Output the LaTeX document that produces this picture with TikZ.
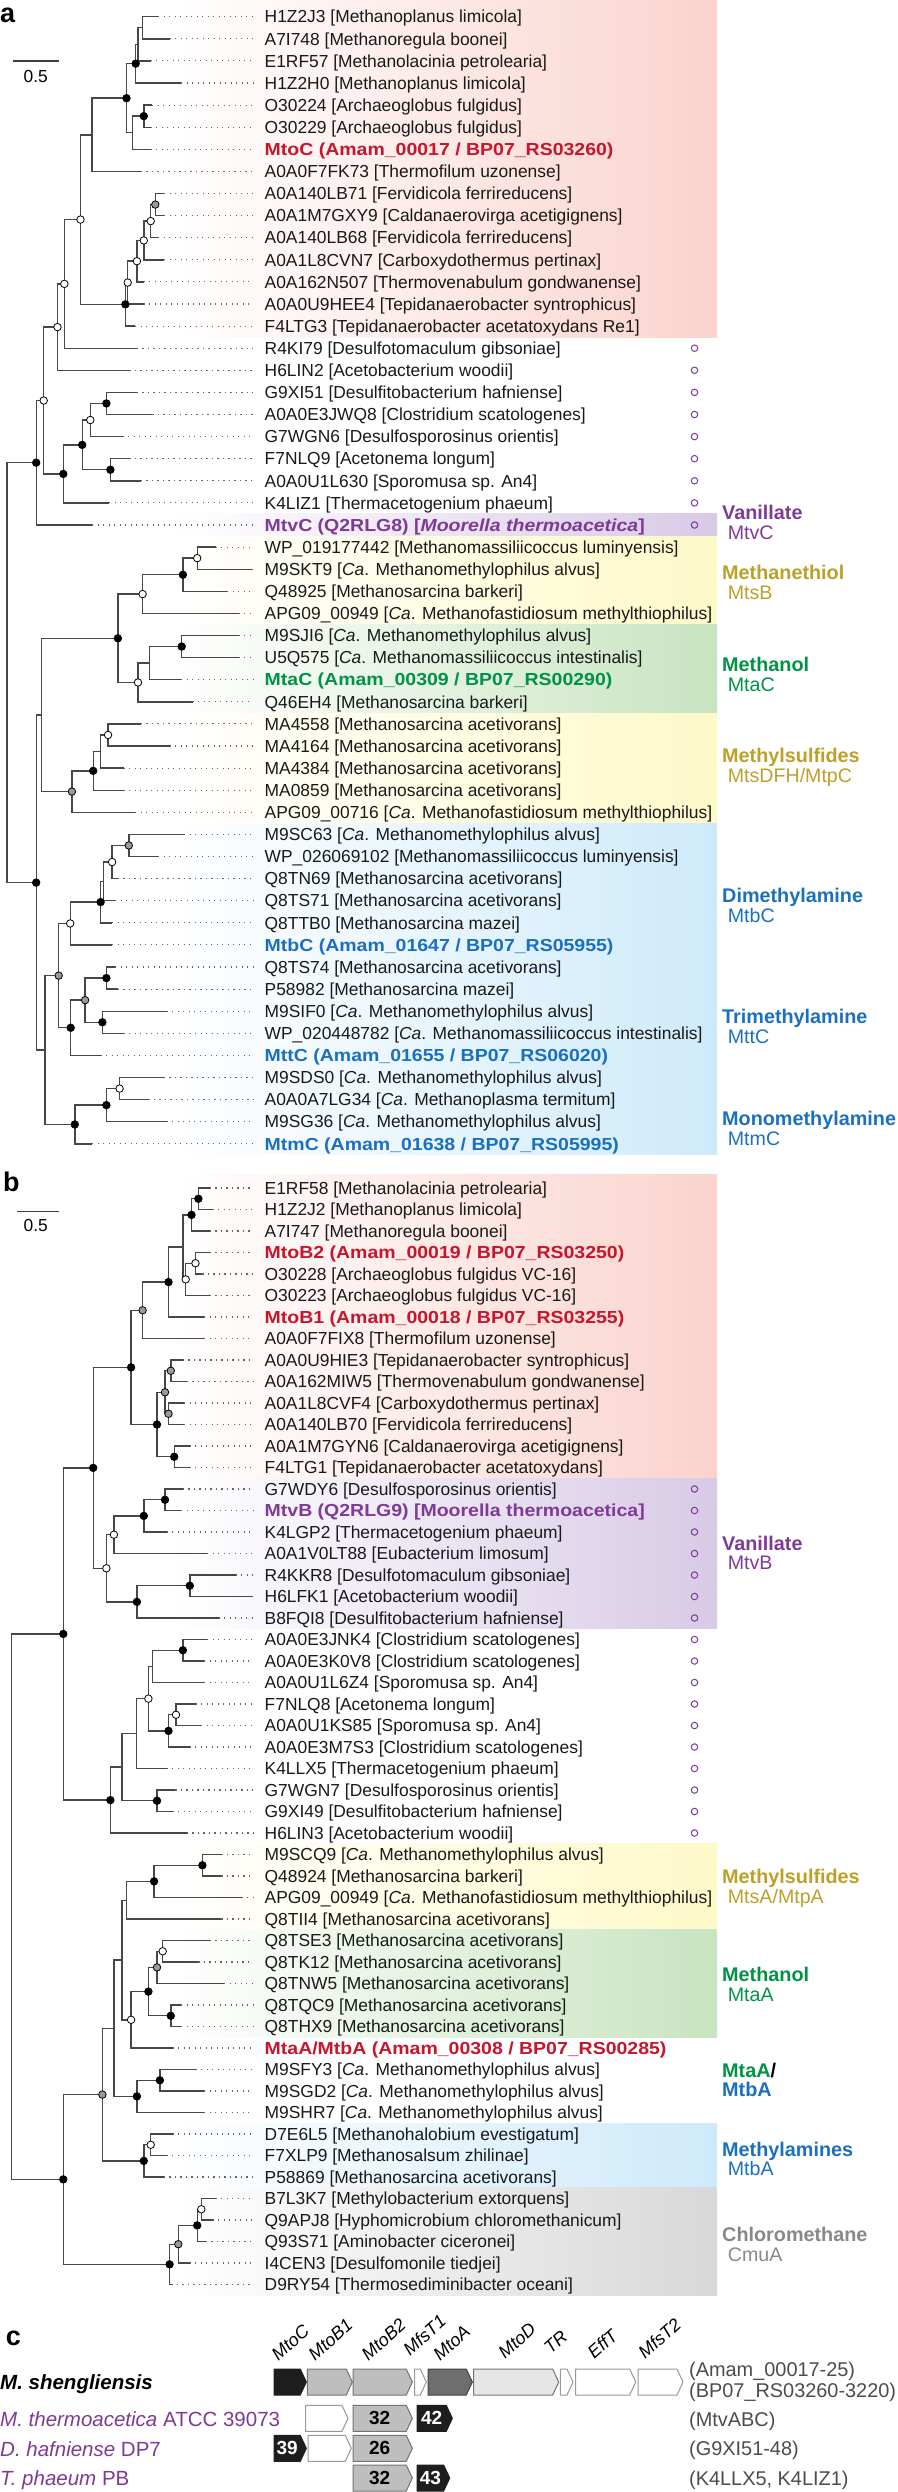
\documentclass[tikz,border=0pt]{standalone}
\usepackage{fontspec}
\setmainfont{Liberation Sans}
\newfontfamily\widesf[FakeStretch=1.12]{Liberation Sans}
\usetikzlibrary{shapes.symbols}

\definecolor{redtx}{RGB}{197,22,45}
\definecolor{purtx}{RGB}{126,58,150}
\definecolor{olvtx}{RGB}{188,160,42}
\definecolor{grntx}{RGB}{0,146,69}
\definecolor{blutx}{RGB}{27,112,190}
\definecolor{grytx}{RGB}{136,136,136}
\definecolor{pinkbg}{RGB}{250,211,205}
\definecolor{purbg}{RGB}{216,202,230}
\definecolor{yelbg}{RGB}{254,249,200}
\definecolor{grnbg}{RGB}{200,228,192}
\definecolor{blubg}{RGB}{206,234,250}
\definecolor{grybg}{RGB}{216,216,218}
\definecolor{gblk}{RGB}{30,30,30}
\definecolor{glgt}{RGB}{190,190,192}
\definecolor{gdrk}{RGB}{110,110,110}
\definecolor{gpal}{RGB}{230,230,232}

\begin{document}
\begin{tikzpicture}[x=1pt, y=-1pt,
  br/.style={line width=1.4pt, draw=black!72},
  dots/.style={line width=1.1pt, draw=black!60, dash pattern=on 1.1pt off 4.4pt, shorten >=11.5pt},
  lf/.style={anchor=west, inner sep=0pt, text height=12.4pt, text depth=0pt, text=black!90, font=\fontsize{17.4}{20}\selectfont},
  lfb/.style={lf, font=\widesf\bfseries\fontsize{17.4}{20}\selectfont},
  bsf/.style={circle, draw=black, line width=0.8pt, inner sep=0pt, minimum size=7.5pt, fill=black},
  bsg/.style={bsf, fill=black!40},
  bso/.style={bsf, fill=white},
  vmk/.style={circle, draw=purtx, line width=1pt, inner sep=0pt, minimum size=6.5pt},
  hd/.style={anchor=west, inner sep=0pt, text height=14.2pt, text depth=0pt, font=\bfseries\fontsize{19.8}{22}\selectfont},
  sub/.style={anchor=west, inner sep=0pt, text height=14.2pt, text depth=0pt, font=\fontsize{19.6}{22}\selectfont},
  panel/.style={anchor=base west, inner sep=0pt, font=\bfseries\fontsize{27}{28}\selectfont},
  sbar/.style={line width=1.3pt, draw=black!75},
  sp/.style={anchor=west, inner sep=0pt, text height=14.7pt, text depth=0pt, font=\fontsize{20.5}{22}\selectfont},
  rt/.style={anchor=west, inner sep=0pt, text height=14.2pt, text depth=0pt, text=black!70, font=\fontsize{19.9}{22}\selectfont},
  gene/.style={signal, signal to=east, signal from=nowhere, signal pointer angle=130, draw, line width=1pt, minimum height=26pt, inner sep=0pt, font=\bfseries\fontsize{19}{20}\selectfont},
  gl/.style={anchor=base west, inner sep=0pt, rotate=42, font=\itshape\fontsize{18}{20}\selectfont}]

\useasboundingbox (0,0) rectangle (897,2492);

% ---------------- panel a ----------------
\node[panel] (pa) at (0,22.7) {a};
\coordinate (sa1) at (12.6,61); \coordinate (sa2) at (58.7,61);
\draw[sbar] (sa1) -- (sa2);
\node[inner sep=0pt, font=\fontsize{17.4}{20}\selectfont] (sal) at (35.7,76.7) {0.5};

\begin{scope}[y=-22.1pt, shift={(0pt,5.4pt)}]
\shade[left color=white, right color=pinkbg] (175,0.25) rectangle (717,15.5);
\shade[left color=white, right color=purbg] (175,23.5) rectangle (717,24.5);
\shade[left color=white, right color=yelbg] (175,24.5) rectangle (717,37.5);
\shade[left color=white, right color=grnbg] (175,28.5) rectangle (717,32.5);
\shade[left color=white, right color=blubg] (175,37.5) rectangle (717,52.5);

\coordinate (ta1) at (158,1); \node[lf] (la1) at (264.5,1) {H1Z2J3 [Methanoplanus limicola]};
\coordinate (ta2) at (169.6,2); \node[lf] (la2) at (264.5,2) {A7I748 [Methanoregula boonei]};
\coordinate (ta3) at (150.6,3); \node[lf] (la3) at (264.5,3) {E1RF57 [Methanolacinia petrolearia]};
\coordinate (ta4) at (181,4); \node[lf] (la4) at (264.5,4) {H1Z2H0 [Methanoplanus limicola]};
\coordinate (ta5) at (152,5); \node[lf] (la5) at (264.5,5) {O30224 [Archaeoglobus fulgidus]};
\coordinate (ta6) at (150.6,6); \node[lf] (la6) at (264.5,6) {O30229 [Archaeoglobus fulgidus]};
\coordinate (ta7) at (150.6,7); \node[lfb, text=redtx] (la7) at (264.5,7) {MtoC (Amam\_00017 / BP07\_RS03260)};
\coordinate (ta8) at (140.9,8); \node[lf] (la8) at (264.5,8) {A0A0F7FK73 [Thermofilum uzonense]};
\coordinate (ta9) at (164,9); \node[lf] (la9) at (264.5,9) {A0A140LB71 [Fervidicola ferrireducens]};
\coordinate (ta10) at (164,10); \node[lf] (la10) at (264.5,10) {A0A1M7GXY9 [Caldanaerovirga acetigignens]};
\coordinate (ta11) at (158,11); \node[lf] (la11) at (264.5,11) {A0A140LB68 [Fervidicola ferrireducens]};
\coordinate (ta12) at (164,12); \node[lf] (la12) at (264.5,12) {A0A1L8CVN7 [Carboxydothermus pertinax]};
\coordinate (ta13) at (143.8,13); \node[lf] (la13) at (264.5,13) {A0A162N507 [Thermovenabulum gondwanense]};
\coordinate (ta14) at (143.8,14); \node[lf] (la14) at (264.5,14) {A0A0U9HEE4 [Tepidanaerobacter syntrophicus]};
\coordinate (ta15) at (135,15); \node[lf] (la15) at (264.5,15) {F4LTG3 [Tepidanaerobacter acetatoxydans Re1]};
\coordinate (ta16) at (136.9,16); \node[lf] (la16) at (264.5,16) {R4KI79 [Desulfotomaculum gibsoniae]};
\coordinate (ta17) at (129.4,17); \node[lf] (la17) at (264.5,17) {H6LIN2 [Acetobacterium woodii]};
\coordinate (ta18) at (136.9,18); \node[lf] (la18) at (264.5,18) {G9XI51 [Desulfitobacterium hafniense]};
\coordinate (ta19) at (152.4,19); \node[lf] (la19) at (264.5,19) {A0A0E3JWQ8 [Clostridium scatologenes]};
\coordinate (ta20) at (122.5,20); \node[lf] (la20) at (264.5,20) {G7WGN6 [Desulfosporosinus orientis]};
\coordinate (ta21) at (129.4,21); \node[lf] (la21) at (264.5,21) {F7NLQ9 [Acetonema longum]};
\coordinate (ta22) at (140.9,22); \node[lf] (la22) at (264.5,22) {A0A0U1L630 [Sporomusa sp. An4]};
\coordinate (ta23) at (109.3,23); \node[lf] (la23) at (264.5,23) {K4LIZ1 [Thermacetogenium phaeum]};
\coordinate (ta24) at (92,24); \node[lfb, text=purtx] (la24) at (264.5,24) {MtvC (Q2RLG8) [\textit{Moorella thermoacetica}]};
\coordinate (ta25) at (215.6,25); \node[lf] (la25) at (264.5,25) {WP\_019177442 [Methanomassiliicoccus luminyensis]};
\coordinate (ta26) at (252,26); \node[lf] (la26) at (264.5,26) {M9SKT9 [\textit{Ca}. Methanomethylophilus alvus]};
\coordinate (ta27) at (227.1,27); \node[lf] (la27) at (264.5,27) {Q48925 [Methanosarcina barkeri]};
\coordinate (ta28) at (238.6,28); \node[lf] (la28) at (264.5,28) {APG09\_00949 [\textit{Ca}. Methanofastidiosum methylthiophilus]};
\coordinate (ta29) at (238.6,29); \node[lf] (la29) at (264.5,29) {M9SJI6 [\textit{Ca}. Methanomethylophilus alvus]};
\coordinate (ta30) at (238.6,30); \node[lf] (la30) at (264.5,30) {U5Q575 [\textit{Ca}. Methanomassiliicoccus intestinalis]};
\coordinate (ta31) at (181.1,31); \node[lfb, text=grntx] (la31) at (264.5,31) {MtaC (Amam\_00309 / BP07\_RS00290)};
\coordinate (ta32) at (192.6,32); \node[lf] (la32) at (264.5,32) {Q46EH4 [Methanosarcina barkeri]};
\coordinate (ta33) at (140.9,33); \node[lf] (la33) at (264.5,33) {MA4558 [Methanosarcina acetivorans]};
\coordinate (ta34) at (169.6,34); \node[lf] (la34) at (264.5,34) {MA4164 [Methanosarcina acetivorans]};
\coordinate (ta35) at (123.6,35); \node[lf] (la35) at (264.5,35) {MA4384 [Methanosarcina acetivorans]};
\coordinate (ta36) at (123.6,36); \node[lf] (la36) at (264.5,36) {MA0859 [Methanosarcina acetivorans]};
\coordinate (ta37) at (135.1,37); \node[lf] (la37) at (264.5,37) {APG09\_00716 [\textit{Ca}. Methanofastidiosum methylthiophilus]};
\coordinate (ta38) at (184,38); \node[lf] (la38) at (264.5,38) {M9SC63 [\textit{Ca}. Methanomethylophilus alvus]};
\coordinate (ta39) at (158.1,39); \node[lf] (la39) at (264.5,39) {WP\_026069102 [Methanomassiliicoccus luminyensis]};
\coordinate (ta40) at (117.9,40); \node[lf] (la40) at (264.5,40) {Q8TN69 [Methanosarcina acetivorans]};
\coordinate (ta41) at (115,41); \node[lf] (la41) at (264.5,41) {Q8TS71 [Methanosarcina acetivorans]};
\coordinate (ta42) at (112.1,42); \node[lf] (la42) at (264.5,42) {Q8TTB0 [Methanosarcina mazei]};
\coordinate (ta43) at (112.1,43); \node[lfb, text=blutx] (la43) at (264.5,43) {MtbC (Amam\_01647 / BP07\_RS05955)};
\coordinate (ta44) at (115,44); \node[lf] (la44) at (264.5,44) {Q8TS74 [Methanosarcina acetivorans]};
\coordinate (ta45) at (117.9,45); \node[lf] (la45) at (264.5,45) {P58982 [Methanosarcina mazei]};
\coordinate (ta46) at (166.8,46); \node[lf] (la46) at (264.5,46) {M9SIF0 [\textit{Ca}. Methanomethylophilus alvus]};
\coordinate (ta47) at (123.6,47); \node[lf] (la47) at (264.5,47) {WP\_020448782 [\textit{Ca}. Methanomassiliicoccus intestinalis]};
\coordinate (ta48) at (100.6,48); \node[lfb, text=blutx] (la48) at (264.5,48) {MttC (Amam\_01655 / BP07\_RS06020)};
\coordinate (ta49) at (163.9,49); \node[lf] (la49) at (264.5,49) {M9SDS0 [\textit{Ca}. Methanomethylophilus alvus]};
\coordinate (ta50) at (148.4,50); \node[lf] (la50) at (264.5,50) {A0A0A7LG34 [\textit{Ca}. Methanoplasma termitum]};
\coordinate (ta51) at (166.8,51); \node[lf] (la51) at (264.5,51) {M9SG36 [\textit{Ca}. Methanomethylophilus alvus]};
\coordinate (ta52) at (92,52); \node[lfb, text=blutx] (la52) at (264.5,52) {MtmC (Amam\_01638 / BP07\_RS05995)};
\foreach \i in {1,...,52} {\draw[dots] (ta\i) -- (la\i);}
\foreach \r in {16,...,24} {\node[vmk] (va\r) at (694.5,\r) {};}

% internal nodes
\coordinate (A1) at (142.6,1.5);
\coordinate (A2) at (138,2.25);
\coordinate (A3) at (135.7,3.125);
\coordinate (A4) at (143.8,5.5);
\coordinate (A5) at (132.3,6.25);
\coordinate (A6) at (126.5,4.6875);
\coordinate (A7) at (92,6.344);
\coordinate (A8) at (155.3,9.5);
\coordinate (A9) at (150.7,10.25);
\coordinate (A10) at (143.8,11.125);
\coordinate (A11) at (136.9,12.0625);
\coordinate (A12) at (127.7,13.03);
\coordinate (A13) at (125.4,14.016);
\coordinate (A14) at (80.5,10.18);
\coordinate (A15) at (64.4,13.09);
\coordinate (A16) at (57.5,15.045);
\coordinate (A17) at (106.4,18.5);
\coordinate (A18) at (90.3,19.25);
\coordinate (A19) at (110.4,21.5);
\coordinate (A20) at (82.2,20.375);
\coordinate (A21) at (63.3,21.6875);
\coordinate (A22) at (43.7,18.366);
\coordinate (A23) at (36.2,21.18);
\coordinate (A24) at (197.2,25.5);
\coordinate (A25) at (182.9,26.25);
\coordinate (A26) at (142.6,27.125);
\coordinate (A27) at (181.7,29.5);
\coordinate (A28) at (149.5,30.25);
\coordinate (A29) at (138,31.125);
\coordinate (A30) at (117.9,29.125);
\coordinate (A31) at (108.1,33.5);
\coordinate (A32) at (100.6,34.25);
\coordinate (A33) at (93.2,35.125);
\coordinate (A34) at (71.9,36.0625);
\coordinate (A35) at (41.4,32.594);
\coordinate (A36) at (128.8,38.5);
\coordinate (A37) at (112.1,39.25);
\coordinate (A38) at (103.5,40.125);
\coordinate (A39) at (100.6,41.0625);
\coordinate (A40) at (70.2,42.03);
\coordinate (A41) at (106.4,44.5);
\coordinate (A42) at (102.4,46.5);
\coordinate (A43) at (85.1,45.5);
\coordinate (A44) at (70.7,46.75);
\coordinate (A45) at (58.7,44.39);
\coordinate (A46) at (119.6,49.5);
\coordinate (A47) at (106.4,50.25);
\coordinate (A48) at (74.8,51.125);
\coordinate (A49) at (44.9,47.76);
\coordinate (A50) at (36.2,40.18);
\coordinate (A51) at (6.9,30.68);

\draw[br] (ta1) -| (A1) |- (ta2);
\draw[br] (A1) -| (A2) |- (ta3);
\draw[br] (A2) -| (A3) |- (ta4);
\draw[br] (ta5) -| (A4) |- (ta6);
\draw[br] (A4) -| (A5) |- (ta7);
\draw[br] (A3) -| (A6) |- (A5);
\draw[br] (A6) -| (A7) |- (ta8);
\draw[br] (ta9) -| (A8) |- (ta10);
\draw[br] (A8) -| (A9) |- (ta11);
\draw[br] (A9) -| (A10) |- (ta12);
\draw[br] (A10) -| (A11) |- (ta13);
\draw[br] (A11) -| (A12) |- (ta14);
\draw[br] (A12) -| (A13) |- (ta15);
\draw[br] (A7) -| (A14) |- (A13);
\draw[br] (A14) -| (A15) |- (ta16);
\draw[br] (A15) -| (A16) |- (ta17);
\draw[br] (ta18) -| (A17) |- (ta19);
\draw[br] (A17) -| (A18) |- (ta20);
\draw[br] (ta21) -| (A19) |- (ta22);
\draw[br] (A18) -| (A20) |- (A19);
\draw[br] (A20) -| (A21) |- (ta23);
\draw[br] (A16) -| (A22) |- (A21);
\draw[br] (A22) -| (A23) |- (ta24);
\draw[br] (ta25) -| (A24) |- (ta26);
\draw[br] (A24) -| (A25) |- (ta27);
\draw[br] (A25) -| (A26) |- (ta28);
\draw[br] (ta29) -| (A27) |- (ta30);
\draw[br] (A27) -| (A28) |- (ta31);
\draw[br] (A28) -| (A29) |- (ta32);
\draw[br] (A26) -| (A30) |- (A29);
\draw[br] (ta33) -| (A31) |- (ta34);
\draw[br] (A31) -| (A32) |- (ta35);
\draw[br] (A32) -| (A33) |- (ta36);
\draw[br] (A33) -| (A34) |- (ta37);
\draw[br] (A30) -| (A35) |- (A34);
\draw[br] (ta38) -| (A36) |- (ta39);
\draw[br] (A36) -| (A37) |- (ta40);
\draw[br] (A37) -| (A38) |- (ta41);
\draw[br] (A38) -| (A39) |- (ta42);
\draw[br] (A39) -| (A40) |- (ta43);
\draw[br] (ta44) -| (A41) |- (ta45);
\draw[br] (ta46) -| (A42) |- (ta47);
\draw[br] (A41) -| (A43) |- (A42);
\draw[br] (A43) -| (A44) |- (ta48);
\draw[br] (A40) -| (A45) |- (A44);
\draw[br] (ta49) -| (A46) |- (ta50);
\draw[br] (A46) -| (A47) |- (ta51);
\draw[br] (A47) -| (A48) |- (ta52);
\draw[br] (A45) -| (A49) |- (A48);
\draw[br] (A35) -| (A50) |- (A49);
\draw[br] (A23) -| (A51) |- (A50);

% support markers
\foreach \n in {A3,A4,A6,A13,A17,A19,A20,A21,A23,A25,A27,A30,A33,A39,A41,A42,A44,A47,A48,A50} {\node[bsf] (m\n) at (\n) {};}
\foreach \n in {A8,A34,A36,A43,A45} {\node[bsg] (m\n) at (\n) {};}
\foreach \n in {A9,A10,A11,A12,A14,A15,A16,A18,A22,A24,A26,A29,A31,A37,A40,A46} {\node[bso] (m\n) at (\n) {};}
\end{scope}

\node[hd, text=purtx] (ha1) at (722,512.7) {Vanillate};
\node[sub, text=purtx] (sa1t) at (727.7,532) {MtvC};
\node[hd, text=olvtx] (ha2) at (722,572.3) {Methanethiol};
\node[sub, text=olvtx] (sa2t) at (727.7,592.3) {MtsB};
\node[hd, text=grntx] (ha3) at (722,664) {Methanol};
\node[sub, text=grntx] (sa3t) at (727.7,684) {MtaC};
\node[hd, text=olvtx] (ha4) at (722,755) {Methylsulfides};
\node[sub, text=olvtx] (sa4t) at (727.7,775) {MtsDFH/MtpC};
\node[hd, text=blutx] (ha5) at (722,895.7) {Dimethylamine};
\node[sub, text=blutx] (sa5t) at (727.7,915) {MtbC};
\node[hd, text=blutx] (ha6) at (722,1016.7) {Trimethylamine};
\node[sub, text=blutx] (sa6t) at (727.7,1036) {MttC};
\node[hd, text=blutx] (ha7) at (722,1118.3) {Monomethylamine};
\node[sub, text=blutx] (sa7t) at (727.7,1138.3) {MtmC};

% ---------------- panel b ----------------
\node[panel] (pb) at (3,1191.7) {b};
\coordinate (sb1) at (17.2,1211.7); \coordinate (sb2) at (59.2,1211.7);
\draw[sbar] (sb1) -- (sb2);
\node[inner sep=0pt, font=\fontsize{17.4}{20}\selectfont] (sbl) at (35.7,1225.5) {0.5};

\begin{scope}[y=-21.5pt, shift={(0pt,-1166.5pt)}]
\shade[left color=white, right color=pinkbg] (175,0.35) rectangle (717,14.5);
\shade[left color=white, right color=purbg] (175,14.5) rectangle (717,21.5);
\shade[left color=white, right color=yelbg] (175,31.5) rectangle (717,35.5);
\shade[left color=white, right color=grnbg] (175,35.5) rectangle (717,40.5);
\shade[left color=white, right color=blubg] (175,44.5) rectangle (717,47.5);
\shade[left color=white, right color=grybg] (175,47.5) rectangle (717,52.5);

\coordinate (tb1) at (209.9,1); \node[lf] (lb1) at (264.5,1) {E1RF58 [Methanolacinia petrolearia]};
\coordinate (tb2) at (212.8,2); \node[lf] (lb2) at (264.5,2) {H1Z2J2 [Methanoplanus limicola]};
\coordinate (tb3) at (209.9,3); \node[lf] (lb3) at (264.5,3) {A7I747 [Methanoregula boonei]};
\coordinate (tb4) at (209.9,4); \node[lfb, text=redtx] (lb4) at (264.5,4) {MtoB2 (Amam\_00019 / BP07\_RS03250)};
\coordinate (tb5) at (202.4,5); \node[lf] (lb5) at (264.5,5) {O30228 [Archaeoglobus fulgidus VC-16]};
\coordinate (tb6) at (209.9,6); \node[lf] (lb6) at (264.5,6) {O30223 [Archaeoglobus fulgidus VC-16]};
\coordinate (tb7) at (204.1,7); \node[lfb, text=redtx] (lb7) at (264.5,7) {MtoB1 (Amam\_00018 / BP07\_RS03255)};
\coordinate (tb8) at (204.1,8); \node[lf] (lb8) at (264.5,8) {A0A0F7FIX8 [Thermofilum uzonense]};
\coordinate (tb9) at (182.9,9); \node[lf] (lb9) at (264.5,9) {A0A0U9HIE3 [Tepidanaerobacter syntrophicus]};
\coordinate (tb10) at (186.9,10); \node[lf] (lb10) at (264.5,10) {A0A162MIW5 [Thermovenabulum gondwanense]};
\coordinate (tb11) at (184,11); \node[lf] (lb11) at (264.5,11) {A0A1L8CVF4 [Carboxydothermus pertinax]};
\coordinate (tb12) at (184,12); \node[lf] (lb12) at (264.5,12) {A0A140LB70 [Fervidicola ferrireducens]};
\coordinate (tb13) at (189.8,13); \node[lf] (lb13) at (264.5,13) {A0A1M7GYN6 [Caldanaerovirga acetigignens]};
\coordinate (tb14) at (189.8,14); \node[lf] (lb14) at (264.5,14) {F4LTG1 [Tepidanaerobacter acetatoxydans]};
\coordinate (tb15) at (182.9,15); \node[lf] (lb15) at (264.5,15) {G7WDY6 [Desulfosporosinus orientis]};
\coordinate (tb16) at (181.1,16); \node[lfb, text=purtx] (lb16) at (264.5,16) {MtvB (Q2RLG9) [Moorella thermoacetica]};
\coordinate (tb17) at (166.8,17); \node[lf] (lb17) at (264.5,17) {K4LGP2 [Thermacetogenium phaeum]};
\coordinate (tb18) at (207,18); \node[lf] (lb18) at (264.5,18) {A0A1V0LT88 [Eubacterium limosum]};
\coordinate (tb19) at (235.8,19); \node[lf] (lb19) at (264.5,19) {R4KKR8 [Desulfotomaculum gibsoniae]};
\coordinate (tb20) at (252,20); \node[lf] (lb20) at (264.5,20) {H6LFK1 [Acetobacterium woodii]};
\coordinate (tb21) at (218.5,21); \node[lf] (lb21) at (264.5,21) {B8FQI8 [Desulfitobacterium hafniense]};
\coordinate (tb22) at (207,22); \node[lf] (lb22) at (264.5,22) {A0A0E3JNK4 [Clostridium scatologenes]};
\coordinate (tb23) at (204.1,23); \node[lf] (lb23) at (264.5,23) {A0A0E3K0V8 [Clostridium scatologenes]};
\coordinate (tb24) at (204.1,24); \node[lf] (lb24) at (264.5,24) {A0A0U1L6Z4 [Sporomusa sp. An4]};
\coordinate (tb25) at (195.5,25); \node[lf] (lb25) at (264.5,25) {F7NLQ8 [Acetonema longum]};
\coordinate (tb26) at (201.3,26); \node[lf] (lb26) at (264.5,26) {A0A0U1KS85 [Sporomusa sp. An4]};
\coordinate (tb27) at (189.8,27); \node[lf] (lb27) at (264.5,27) {A0A0E3M7S3 [Clostridium scatologenes]};
\coordinate (tb28) at (166.8,28); \node[lf] (lb28) at (264.5,28) {K4LLX5 [Thermacetogenium phaeum]};
\coordinate (tb29) at (175.4,29); \node[lf] (lb29) at (264.5,29) {G7WGN7 [Desulfosporosinus orientis]};
\coordinate (tb30) at (172.5,30); \node[lf] (lb30) at (264.5,30) {G9XI49 [Desulfitobacterium hafniense]};
\coordinate (tb31) at (186.9,31); \node[lf] (lb31) at (264.5,31) {H6LIN3 [Acetobacterium woodii]};
\coordinate (tb32) at (221.4,32); \node[lf] (lb32) at (264.5,32) {M9SCQ9 [\textit{Ca}. Methanomethylophilus alvus]};
\coordinate (tb33) at (221.4,33); \node[lf] (lb33) at (264.5,33) {Q48924 [Methanosarcina barkeri]};
\coordinate (tb34) at (241.5,34); \node[lf] (lb34) at (264.5,34) {APG09\_00949 [\textit{Ca}. Methanofastidiosum methylthiophilus]};
\coordinate (tb35) at (221.4,35); \node[lf] (lb35) at (264.5,35) {Q8TII4 [Methanosarcina acetivorans]};
\coordinate (tb36) at (209.9,36); \node[lf] (lb36) at (264.5,36) {Q8TSE3 [Methanosarcina acetivorans]};
\coordinate (tb37) at (198.4,37); \node[lf] (lb37) at (264.5,37) {Q8TK12 [Methanosarcina acetivorans]};
\coordinate (tb38) at (224.3,38); \node[lf] (lb38) at (264.5,38) {Q8TNW5 [Methanosarcina acetivorans]};
\coordinate (tb39) at (181.1,39); \node[lf] (lb39) at (264.5,39) {Q8TQC9 [Methanosarcina acetivorans]};
\coordinate (tb40) at (181.1,40); \node[lf] (lb40) at (264.5,40) {Q8THX9 [Methanosarcina acetivorans]};
\coordinate (tb41) at (172.5,41); \node[lfb, text=redtx] (lb41) at (264.5,41) {MtaA/MtbA (Amam\_00308 / BP07\_RS00285)};
\coordinate (tb42) at (195.5,42); \node[lf] (lb42) at (264.5,42) {M9SFY3 [\textit{Ca}. Methanomethylophilus alvus]};
\coordinate (tb43) at (204.1,43); \node[lf] (lb43) at (264.5,43) {M9SGD2 [\textit{Ca}. Methanomethylophilus alvus]};
\coordinate (tb44) at (204.1,44); \node[lf] (lb44) at (264.5,44) {M9SHR7 [\textit{Ca}. Methanomethylophilus alvus]};
\coordinate (tb45) at (172.5,45); \node[lf] (lb45) at (264.5,45) {D7E6L5 [Methanohalobium evestigatum]};
\coordinate (tb46) at (166.8,46); \node[lf] (lb46) at (264.5,46) {F7XLP9 [Methanosalsum zhilinae]};
\coordinate (tb47) at (163.9,47); \node[lf] (lb47) at (264.5,47) {P58869 [Methanosarcina acetivorans]};
\coordinate (tb48) at (215.6,48); \node[lf] (lb48) at (264.5,48) {B7L3K7 [Methylobacterium extorquens]};
\coordinate (tb49) at (212.8,49); \node[lf] (lb49) at (264.5,49) {Q9APJ8 [Hyphomicrobium chloromethanicum]};
\coordinate (tb50) at (205.9,50); \node[lf] (lb50) at (264.5,50) {Q93S71 [Aminobacter ciceronei]};
\coordinate (tb51) at (189.8,51); \node[lf] (lb51) at (264.5,51) {I4CEN3 [Desulfomonile tiedjei]};
\coordinate (tb52) at (171.4,52); \node[lf] (lb52) at (264.5,52) {D9RY54 [Thermosediminibacter oceani]};
\foreach \i in {1,...,52} {\draw[dots] (tb\i) -- (lb\i);}
\foreach \r in {15,...,31} {\node[vmk] (vb\r) at (694.5,\r) {};}

% internal nodes
\coordinate (B1) at (198.4,1.5);
\coordinate (B2) at (191.5,2.25);
\coordinate (B3) at (195.5,4.5);
\coordinate (B4) at (185.7,5.25);
\coordinate (B5) at (182.9,3.75);
\coordinate (B6) at (168.5,5.375);
\coordinate (B7) at (142.6,6.6875);
\coordinate (B8) at (170.8,9.5);
\coordinate (B9) at (168.5,11.5);
\coordinate (B10) at (165,10.5);
\coordinate (B11) at (174.2,13.5);
\coordinate (B12) at (157,12);
\coordinate (B13) at (131.1,9.344);
\coordinate (B14) at (165,15.5);
\coordinate (B15) at (143.8,16.25);
\coordinate (B16) at (113.9,17.125);
\coordinate (B17) at (189.8,19.5);
\coordinate (B18) at (136.9,20.25);
\coordinate (B19) at (106.4,18.6875);
\coordinate (B20) at (93.2,14.016);
\coordinate (B21) at (182.9,22.5);
\coordinate (B22) at (152.4,23.25);
\coordinate (B23) at (176,25.5);
\coordinate (B24) at (168.5,26.25);
\coordinate (B25) at (148.4,24.75);
\coordinate (B26) at (136.3,26.375);
\coordinate (B27) at (157,29.5);
\coordinate (B28) at (121.9,27.9375);
\coordinate (B29) at (110.4,29.47);
\coordinate (B30) at (63.3,21.74);
\coordinate (B31) at (202.4,32.5);
\coordinate (B32) at (154.1,33.25);
\coordinate (B33) at (126.5,34.125);
\coordinate (B34) at (162.7,36.5);
\coordinate (B35) at (157,37.25);
\coordinate (B36) at (170.8,39.5);
\coordinate (B37) at (148.4,38.375);
\coordinate (B38) at (131.1,39.6875);
\coordinate (B39) at (121.9,36.906);
\coordinate (B40) at (159.9,42.5);
\coordinate (B41) at (136.9,43.25);
\coordinate (B42) at (113.9,40.08);
\coordinate (B43) at (150.7,45.5);
\coordinate (B44) at (143.8,46.25);
\coordinate (B45) at (102.4,43.165);
\coordinate (B46) at (201.3,48.5);
\coordinate (B47) at (197.2,49.25);
\coordinate (B48) at (178.3,50.125);
\coordinate (B49) at (169.6,51.0625);
\coordinate (B50) at (63.3,47.11);
\coordinate (B51) at (11.5,34.43);

\draw[br] (tb1) -| (B1) |- (tb2);
\draw[br] (B1) -| (B2) |- (tb3);
\draw[br] (tb4) -| (B3) |- (tb5);
\draw[br] (B3) -| (B4) |- (tb6);
\draw[br] (B2) -| (B5) |- (B4);
\draw[br] (B5) -| (B6) |- (tb7);
\draw[br] (B6) -| (B7) |- (tb8);
\draw[br] (tb9) -| (B8) |- (tb10);
\draw[br] (tb11) -| (B9) |- (tb12);
\draw[br] (B8) -| (B10) |- (B9);
\draw[br] (tb13) -| (B11) |- (tb14);
\draw[br] (B10) -| (B12) |- (B11);
\draw[br] (B7) -| (B13) |- (B12);
\draw[br] (tb15) -| (B14) |- (tb16);
\draw[br] (B14) -| (B15) |- (tb17);
\draw[br] (B15) -| (B16) |- (tb18);
\draw[br] (tb19) -| (B17) |- (tb20);
\draw[br] (B17) -| (B18) |- (tb21);
\draw[br] (B16) -| (B19) |- (B18);
\draw[br] (B13) -| (B20) |- (B19);
\draw[br] (tb22) -| (B21) |- (tb23);
\draw[br] (B21) -| (B22) |- (tb24);
\draw[br] (tb25) -| (B23) |- (tb26);
\draw[br] (B23) -| (B24) |- (tb27);
\draw[br] (B22) -| (B25) |- (B24);
\draw[br] (B25) -| (B26) |- (tb28);
\draw[br] (tb29) -| (B27) |- (tb30);
\draw[br] (B26) -| (B28) |- (B27);
\draw[br] (B28) -| (B29) |- (tb31);
\draw[br] (B20) -| (B30) |- (B29);
\draw[br] (tb32) -| (B31) |- (tb33);
\draw[br] (B31) -| (B32) |- (tb34);
\draw[br] (B32) -| (B33) |- (tb35);
\draw[br] (tb36) -| (B34) |- (tb37);
\draw[br] (B34) -| (B35) |- (tb38);
\draw[br] (tb39) -| (B36) |- (tb40);
\draw[br] (B35) -| (B37) |- (B36);
\draw[br] (B37) -| (B38) |- (tb41);
\draw[br] (B33) -| (B39) |- (B38);
\draw[br] (tb42) -| (B40) |- (tb43);
\draw[br] (B40) -| (B41) |- (tb44);
\draw[br] (B39) -| (B42) |- (B41);
\draw[br] (tb45) -| (B43) |- (tb46);
\draw[br] (B43) -| (B44) |- (tb47);
\draw[br] (B42) -| (B45) |- (B44);
\draw[br] (tb48) -| (B46) |- (tb49);
\draw[br] (B46) -| (B47) |- (tb50);
\draw[br] (B47) -| (B48) |- (tb51);
\draw[br] (B48) -| (B49) |- (tb52);
\draw[br] (B45) -| (B50) |- (B49);
\draw[br] (B30) -| (B51) |- (B50);

% support markers
\foreach \n in {B1,B2,B6,B11,B12,B13,B14,B15,B17,B18,B20,B21,B24,B27,B29,B30,B31,B32,B36,B37,B40,B41,B44,B47,B49,B50} {\node[bsf] (m\n) at (\n) {};}
\foreach \n in {B7,B8,B9,B10,B35,B45,B48} {\node[bsg] (m\n) at (\n) {};}
\foreach \n in {B3,B4,B16,B19,B23,B25,B34,B38,B43,B46} {\node[bso] (m\n) at (\n) {};}
\end{scope}

\node[hd, text=purtx] (hb1) at (722,1543.3) {Vanillate};
\node[sub, text=purtx] (sb1t) at (727.7,1562.3) {MtvB};
\node[hd, text=olvtx] (hb2) at (722,1876) {Methylsulfides};
\node[sub, text=olvtx] (sb2t) at (727.7,1896) {MtsA/MtpA};
\node[hd, text=grntx] (hb3) at (722,1974) {Methanol};
\node[sub, text=grntx] (sb3t) at (727.7,1994) {MtaA};
\node[hd, text=black] (hb4) at (722,2070) {\textcolor{grntx}{MtaA}/};
\node[hd, text=blutx] (hb4b) at (722,2089.3) {MtbA};
\node[hd, text=blutx] (hb5) at (722,2149.3) {Methylamines};
\node[sub, text=blutx] (sb5t) at (727.7,2168.3) {MtbA};
\node[hd, text=grytx] (hb6) at (722,2234) {Chloromethane};
\node[sub, text=grytx] (sb6t) at (727.7,2254) {CmuA};

% ---------------- panel c ----------------
\node[panel] (pc) at (5.7,2345) {c};

\node[gl] (lMtoC) at (278.3,2361.7) {MtoC};
\node[gl] (lMtoB1) at (315,2361.7) {MtoB1};
\node[gl] (lMtoB2) at (368.3,2361.7) {MtoB2};
\node[gl] (lMfsT1) at (410,2356.7) {MfsT1};
\node[gl] (lMtoA) at (440,2361.7) {MtoA};
\node[gl] (lMtoD) at (505,2360) {MtoD};
\node[gl] (lTR) at (550.7,2355) {TR};
\node[gl] (lEffT) at (594.3,2360) {EffT};
\node[gl] (lMfsT2) at (645,2360) {MfsT2};

\node[gene, fill=gblk, draw=gblk, minimum width=32.3pt] (gMtoC) at (287.15,2382) {};
\node[gene, fill=glgt, draw=black!55, minimum width=45pt] (gMtoB1) at (326.8,2382) {};
\node[gene, fill=glgt, draw=black!55, minimum width=59.3pt] (gMtoB2) at (379.65,2382) {};
\node[gene, fill=white, draw=black!40, minimum width=11.6pt] (gMfsT1) at (417.5,2382) {};
\node[gene, fill=gdrk, draw=black!75, minimum width=44.3pt] (gMtoA) at (447.15,2382) {};
\node[gene, fill=gpal, draw=black!55, minimum width=85pt] (gMtoD) at (513.2,2382) {};
\node[gene, fill=white, draw=black!40, minimum width=12.7pt] (gTR) at (563.65,2382) {};
\node[gene, fill=white, draw=black!40, minimum width=60pt] (gEffT) at (602.7,2382) {};
\node[gene, fill=white, draw=black!40, minimum width=45pt] (gMfsT2) at (657.5,2382) {};

\node[gene, fill=white, draw=black!40, minimum width=42.3pt] (gMt1) at (323.85,2418.3) {};
\node[gene, fill=glgt, draw=black!55, minimum width=59.3pt] (gMt2) at (379.65,2418.3) {32};
\node[gene, fill=gblk, draw=gblk, text=white, minimum width=35.3pt] (gMt3) at (431.65,2418.3) {42};

\node[gene, fill=gblk, draw=gblk, text=white, minimum width=32.3pt] (gDh1) at (287.15,2448.3) {39};
\node[gene, fill=white, draw=black!40, minimum width=43.3pt] (gDh2) at (326.65,2448.3) {};
\node[gene, fill=glgt, draw=black!55, minimum width=59.3pt] (gDh3) at (379.65,2448.3) {26};

\node[gene, fill=glgt, draw=black!55, minimum width=59.3pt] (gTp1) at (379.65,2478) {32};
\node[gene, fill=gblk, draw=gblk, text=white, minimum width=32.7pt] (gTp2) at (430.35,2478) {43};

\node[sp, font=\bfseries\itshape\fontsize{20.5}{22}\selectfont] (sMsh) at (0,2382) {M. shengliensis};
\node[sp, text=purtx] (sMth) at (0,2419) {\textit{M. thermoacetica} ATCC 39073};
\node[sp, text=purtx] (sDha) at (0,2448.7) {\textit{D. hafniense} DP7};
\node[sp, text=purtx] (sTph) at (0,2478.3) {\textit{T. phaeum} PB};

\node[rt] (rMsh1) at (689,2369.3) {(Amam\_00017-25)};
\node[rt] (rMsh2) at (689,2390) {(BP07\_RS03260-3220)};
\node[rt] (rMth) at (689,2419) {(MtvABC)};
\node[rt] (rDha) at (689,2448.7) {(G9XI51-48)};
\node[rt] (rTph) at (689,2478.3) {(K4LLX5, K4LIZ1)};

\end{tikzpicture}
\end{document}
